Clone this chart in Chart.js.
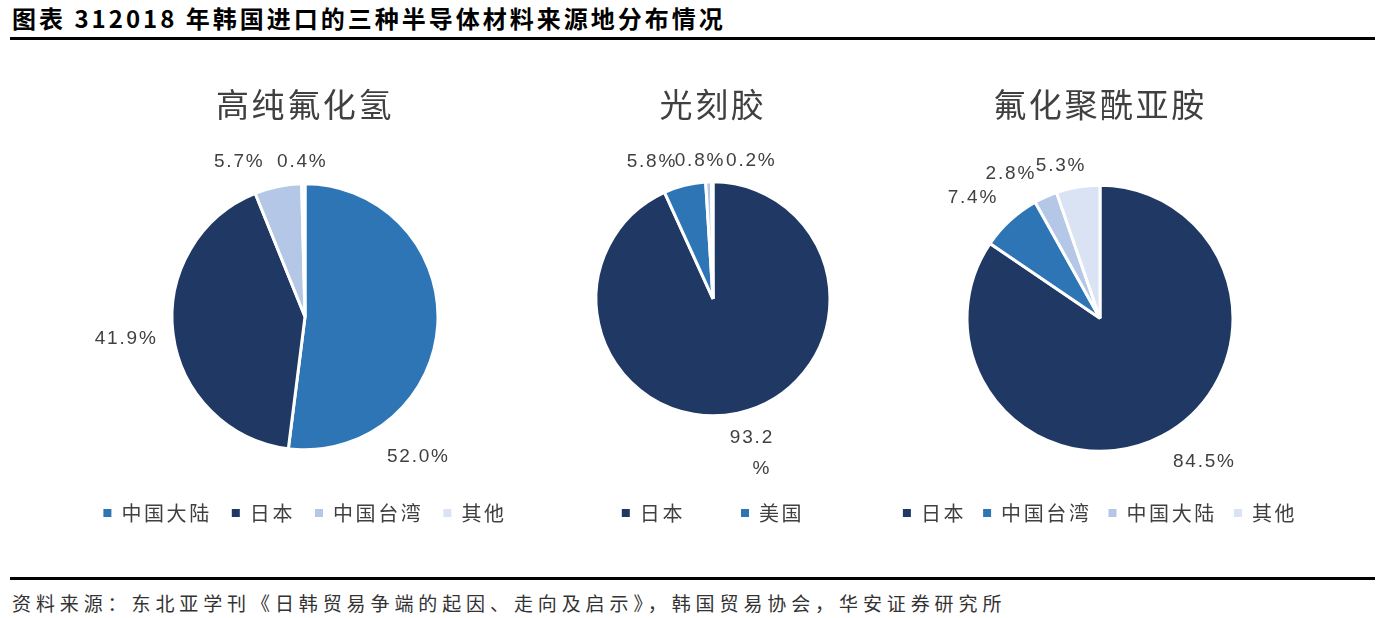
<!DOCTYPE html>
<html>
<head>
<meta charset="utf-8">
<script src="https://cdn.jsdelivr.net/npm/chart.js@4.4.0/dist/chart.umd.min.js"></script>
<style>
    body { margin: 0; background: #fff; width: 1384px; height: 618px; position: relative; overflow: hidden; font-family: "Noto Sans CJK SC", sans-serif; }
    #title { position: absolute; left: 12px; top: 3px; font-size: 24px; line-height: 30px; font-weight: bold; letter-spacing: 3px; color: #000; }
    .rule { position: absolute; left: 10px; right: 9px; height: 3px; background: #000; }
    #source { position: absolute; left: 12px; top: 590px; font-size: 19px; line-height: 26px; letter-spacing: 4.9px; color: #333; }
    canvas { position: absolute; top: 60px; }
</style>
</head>
<body>
<div id="title">图表 312018 年韩国进口的三种半导体材料来源地分布情况</div>
<div class="rule" style="top:37px"></div>
<canvas id="hfChart" width="520" height="473" style="left:45px"></canvas>
<canvas id="resistChart" width="400" height="473" style="left:513px"></canvas>
<canvas id="piChart" width="520" height="473" style="left:840px"></canvas>
<div class="rule" style="top:577px"></div>
<div id="source">资料来源：东北亚学刊《日韩贸易争端的起因、走向及启示》，韩国贸易协会，华安证券研究所</div>

<script>
// 高纯氟化氢
const hfCategories = ['中国大陆', '日本', '中国台湾', '其他'];
const hfShares = [52.0, 41.9, 5.7, 0.4];

// 光刻胶 (only the first two sources are named in the legend)
const resistCategories = ['日本', '美国', '其他', '其他'];
const resistShares = [93.2, 5.8, 0.8, 0.2];
const resistLegendCount = 2;

// 氟化聚酰亚胺
const piCategories = ['日本', '中国台湾', '中国大陆', '其他'];
const piShares = [84.5, 7.4, 2.8, 5.3];

const NAVY = '#203864';
const BLUE = '#2e75b6';
const LIGHT = '#b4c7e7';
const PALE = '#dae3f3';
const TEXT = '#404040';

// label spots: [angle from 12 o'clock, distance in radii, wrap '%' onto a second line]
const valueLabels = {
    id: 'valueLabels',
    afterDatasetsDraw(chart, args, opts) {
        const ctx = chart.ctx;
        const arcs = chart.getDatasetMeta(0).data;
        const values = chart.data.datasets[0].data;
        ctx.save();
        ctx.font = '19px "Liberation Sans", Arial, sans-serif';
        ctx.letterSpacing = '1.8px';
        ctx.fillStyle = TEXT;
        ctx.textAlign = 'center';
        ctx.textBaseline = 'middle';
        arcs.forEach((arc, i) => {
            const spot = opts.spots[i];
            const a = spot[0] * Math.PI / 180;
            const d = spot[1] * (arc.outerRadius - 1.5);
            const x = arc.x + Math.sin(a) * d;
            const y = arc.y - Math.cos(a) * d;
            const text = values[i].toFixed(1) + '%';
            if (spot[2]) {
                ctx.fillText(text.slice(0, -1), x - 8, y - 15);
                ctx.fillText('%', x + 2, y + 16);
            } else {
                ctx.fillText(text, x, y);
            }
        });
        ctx.restore();
    }
};

// wider character spacing for the Chinese title and legend
const wideText = {
    id: 'wideText',
    beforeLayout(chart) { chart.ctx.letterSpacing = '2.6px'; },
    beforeDraw(chart) { chart.ctx.letterSpacing = '2.6px'; }
};

function makePie(id, categories, shares, colors, opts) {
    const baseLabels = Chart.controllers.doughnut.overrides.plugins.legend.labels.generateLabels;
    return new Chart(document.getElementById(id), {
        type: 'pie',
        data: {
            labels: categories,
            datasets: [{
                data: shares,
                backgroundColor: colors,
                borderColor: '#ffffff',
                borderWidth: 3
            }]
        },
        options: {
            responsive: false,
            animation: false,
            radius: opts.radius,
            layout: { padding: 0 },
            plugins: {
                title: {
                    display: true,
                    text: opts.title,
                    color: TEXT,
                    font: { family: '"Noto Sans CJK SC"', size: 33, weight: 'normal' },
                    padding: { top: 25, bottom: 26 }
                },
                legend: {
                    position: 'bottom',
                    labels: {
                        color: TEXT,
                        font: { family: '"Noto Sans CJK SC"', size: 20 },
                        boxWidth: 8,
                        boxHeight: 8,
                        padding: opts.legendPadding,
                        generateLabels(chart) {
                            return baseLabels(chart)
                                .filter(item => item.index < opts.legendCount)
                                .map(item => Object.assign(item, { lineWidth: 0 }));
                        }
                    }
                },
                tooltip: { enabled: false },
                valueLabels: { spots: opts.spots }
            }
        },
        plugins: [wideText, valueLabels]
    });
}

document.addEventListener('DOMContentLoaded', () => {
    makePie('hfChart', hfCategories, hfShares, [BLUE, NAVY, LIGHT, PALE], {
        title: '高纯氟化氢',
        radius: 133,
        legendPadding: 20,
        legendCount: hfCategories.length,
        spots: [[141, 1.37], [263, 1.37], [337, 1.28], [359, 1.18]]
    });

    makePie('resistChart', resistCategories, resistShares, [NAVY, BLUE, LIGHT, PALE], {
        title: '光刻胶',
        radius: 117,
        legendPadding: 56,
        legendCount: resistLegendCount,
        spots: [[163, 1.39, true], [336, 1.30], [354.6, 1.20], [15.5, 1.24]]
    });

    makePie('piChart', piCategories, piShares, [NAVY, BLUE, LIGHT, PALE], {
        title: '氟化聚酰亚胺',
        radius: 133,
        legendPadding: 17,
        legendCount: piCategories.length,
        spots: [[144, 1.35], [313.4, 1.33], [328.3, 1.29], [345.7, 1.20]]
    });
});
</script>
</body>
</html>
